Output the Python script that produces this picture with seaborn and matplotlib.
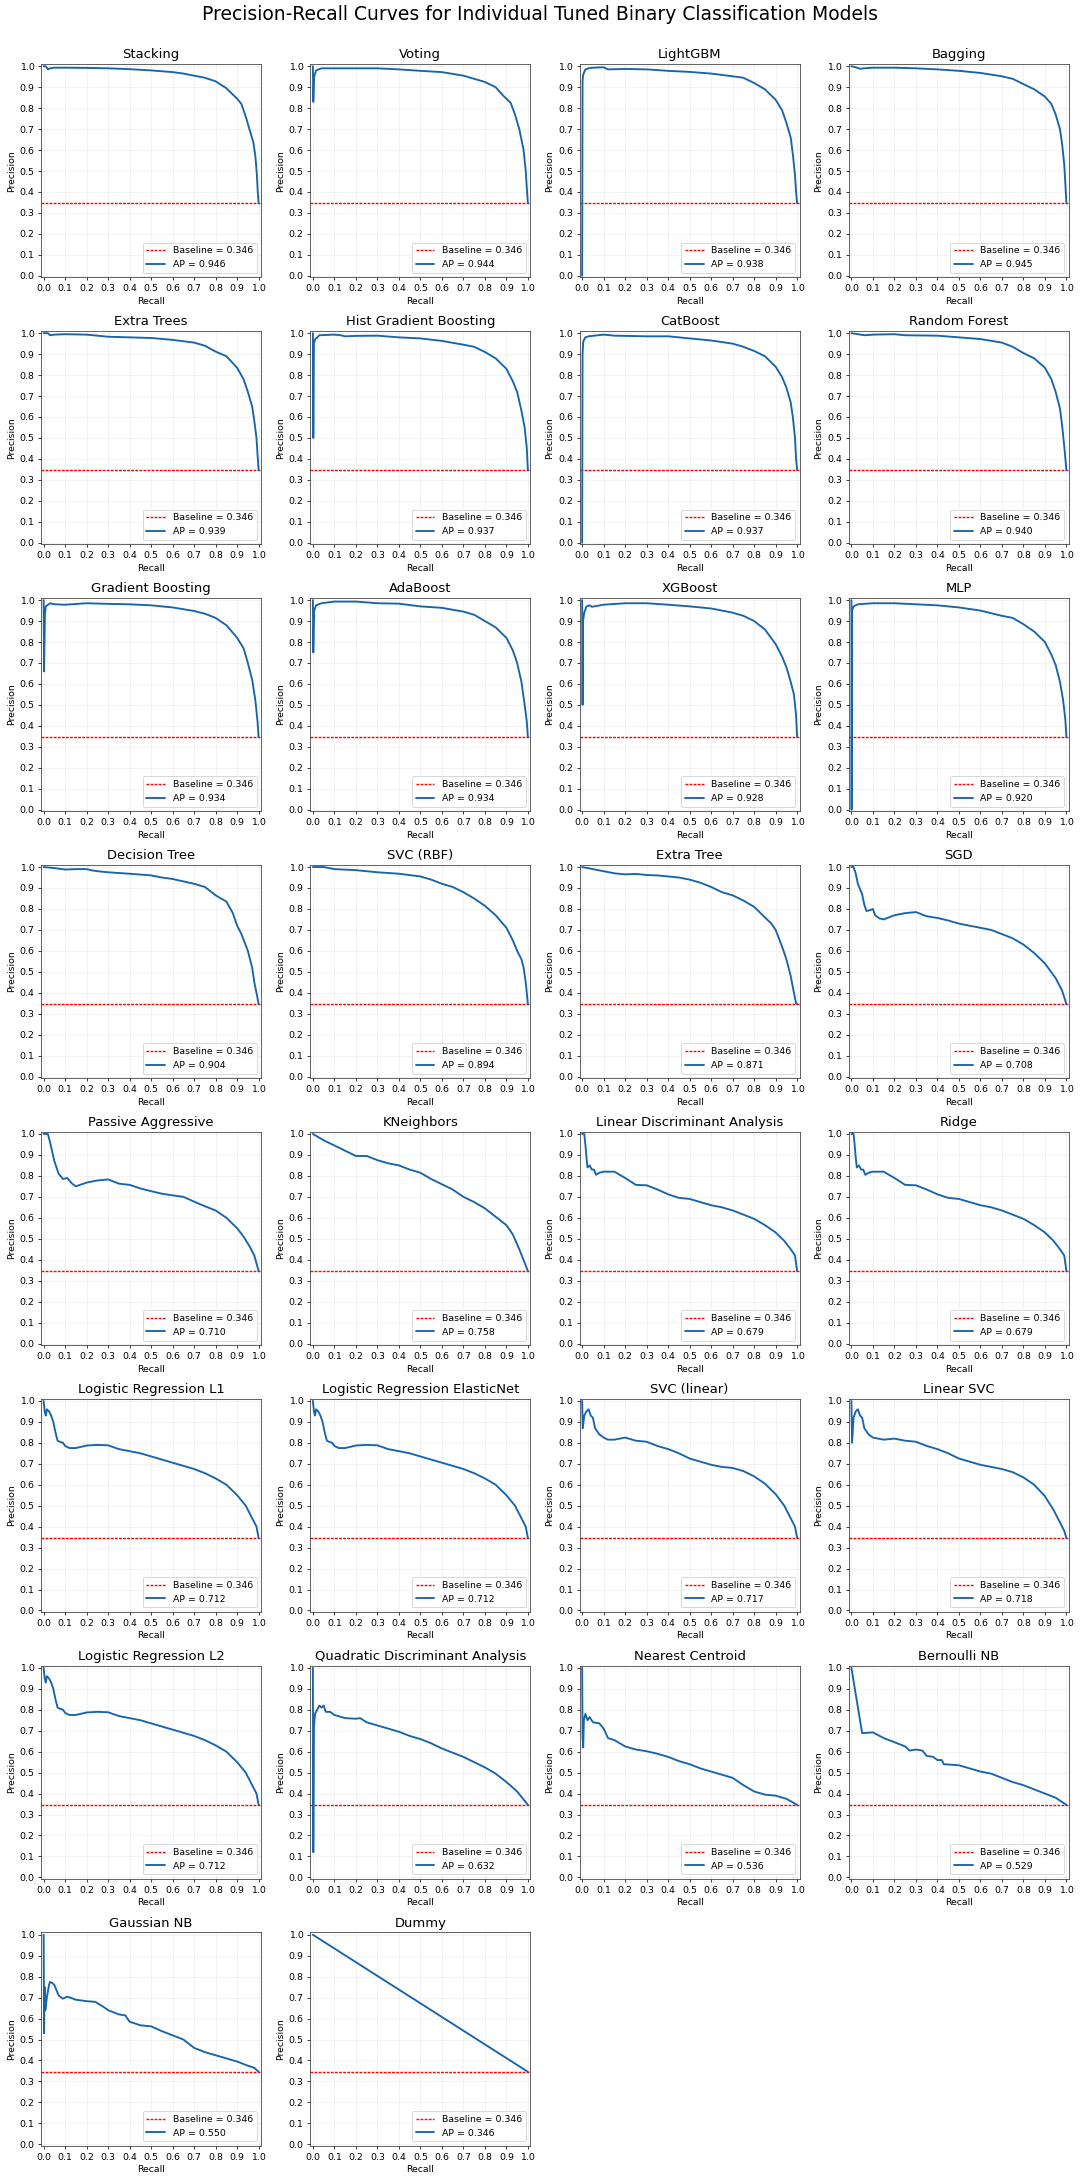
import numpy as np
import pandas as pd
import matplotlib
matplotlib.use('Agg')
import matplotlib.pyplot as plt
import seaborn as sns

baseline = 0.346

model_names = ['Stacking', 'Voting', 'LightGBM', 'Bagging',
               'Extra Trees', 'Hist Gradient Boosting', 'CatBoost', 'Random Forest',
               'Gradient Boosting', 'AdaBoost', 'XGBoost', 'MLP',
               'Decision Tree', 'SVC (RBF)', 'Extra Tree', 'SGD',
               'Passive Aggressive', 'KNeighbors', 'Linear Discriminant Analysis', 'Ridge',
               'Logistic Regression L1', 'Logistic Regression ElasticNet', 'SVC (linear)', 'Linear SVC',
               'Logistic Regression L2', 'Quadratic Discriminant Analysis', 'Nearest Centroid', 'Bernoulli NB',
               'Gaussian NB', 'Dummy']
ap_scores = [0.946, 0.944, 0.938, 0.945,
             0.939, 0.937, 0.937, 0.940,
             0.934, 0.934, 0.928, 0.920,
             0.904, 0.894, 0.871, 0.708,
             0.710, 0.758, 0.679, 0.679,
             0.712, 0.712, 0.717, 0.718,
             0.712, 0.632, 0.536, 0.529,
             0.550, 0.346]

# precision-recall points (recall, precision)
stacking_r = [0, 0.01, 0.02, 0.03, 0.05, 0.1, 0.2, 0.3, 0.4, 0.5, 0.6, 0.65, 0.7, 0.75, 0.8, 0.85, 0.9, 0.92, 0.94, 0.96, 0.975, 0.985, 0.992, 0.996, 1.0]
stacking_p = [1.0, 1.0, 0.985, 0.99, 0.993, 0.993, 0.992, 0.99, 0.986, 0.98, 0.972, 0.965, 0.955, 0.945, 0.928, 0.895, 0.845, 0.82, 0.76, 0.69, 0.64, 0.57, 0.48, 0.40, 0.346]

voting_r = [0, 0.002, 0.006, 0.015, 0.04, 0.1, 0.2, 0.3, 0.4, 0.5, 0.6, 0.7, 0.75, 0.8, 0.85, 0.88, 0.9, 0.92, 0.94, 0.96, 0.98, 0.99, 0.995, 1.0]
voting_p = [1.0, 0.83, 0.95, 0.98, 0.99, 0.99, 0.99, 0.99, 0.985, 0.978, 0.972, 0.955, 0.94, 0.925, 0.9, 0.865, 0.845, 0.825, 0.77, 0.70, 0.60, 0.50, 0.42, 0.346]

lightgbm_r = [0, 0.002, 0.005, 0.015, 0.03, 0.05, 0.1, 0.12, 0.2, 0.3, 0.4, 0.5, 0.6, 0.7, 0.75, 0.8, 0.85, 0.9, 0.93, 0.95, 0.97, 0.98, 0.99, 0.995, 1.0]
lightgbm_p = [0.0, 0.93, 0.96, 0.985, 0.99, 0.993, 0.995, 0.985, 0.987, 0.985, 0.978, 0.973, 0.965, 0.952, 0.945, 0.92, 0.89, 0.84, 0.79, 0.73, 0.66, 0.58, 0.48, 0.40, 0.346]

bagging_r = [0, 0.02, 0.04, 0.06, 0.1, 0.2, 0.3, 0.4, 0.5, 0.6, 0.7, 0.75, 0.8, 0.85, 0.9, 0.93, 0.95, 0.97, 0.98, 0.99, 0.995, 1.0]
bagging_p = [1.0, 0.995, 0.988, 0.99, 0.993, 0.993, 0.99, 0.985, 0.978, 0.968, 0.952, 0.94, 0.915, 0.89, 0.855, 0.82, 0.77, 0.70, 0.63, 0.53, 0.44, 0.346]

extra_trees_r = [0, 0.02, 0.03, 0.05, 0.1, 0.2, 0.3, 0.4, 0.5, 0.6, 0.7, 0.75, 0.8, 0.85, 0.9, 0.93, 0.95, 0.97, 0.98, 0.99, 0.995, 1.0]
extra_trees_p = [1.0, 1.0, 0.99, 0.993, 0.995, 0.993, 0.983, 0.98, 0.977, 0.968, 0.955, 0.94, 0.912, 0.89, 0.835, 0.78, 0.72, 0.65, 0.58, 0.50, 0.42, 0.346]

hist_gb_r = [0, 0.002, 0.005, 0.01, 0.03, 0.1, 0.13, 0.15, 0.2, 0.3, 0.4, 0.5, 0.6, 0.7, 0.75, 0.8, 0.85, 0.9, 0.93, 0.95, 0.97, 0.985, 0.995, 1.0]
hist_gb_p = [1.0, 0.5, 0.95, 0.97, 0.99, 0.993, 0.99, 0.985, 0.987, 0.988, 0.98, 0.975, 0.963, 0.945, 0.935, 0.91, 0.88, 0.83, 0.77, 0.72, 0.63, 0.55, 0.45, 0.346]

catboost_r = [0, 0.002, 0.005, 0.015, 0.03, 0.1, 0.15, 0.3, 0.4, 0.5, 0.6, 0.7, 0.75, 0.8, 0.85, 0.9, 0.93, 0.95, 0.97, 0.98, 0.99, 0.995, 1.0]
catboost_p = [0.0, 0.9, 0.96, 0.98, 0.985, 0.993, 0.988, 0.985, 0.985, 0.975, 0.965, 0.95, 0.935, 0.915, 0.89, 0.84, 0.79, 0.74, 0.67, 0.60, 0.50, 0.40, 0.346]

random_forest_r = [0, 0.03, 0.06, 0.1, 0.2, 0.25, 0.4, 0.5, 0.6, 0.7, 0.75, 0.8, 0.85, 0.9, 0.93, 0.95, 0.97, 0.98, 0.99, 1.0]
random_forest_p = [1.0, 0.995, 0.99, 0.993, 0.995, 0.99, 0.988, 0.98, 0.972, 0.955, 0.935, 0.905, 0.88, 0.835, 0.78, 0.72, 0.64, 0.56, 0.46, 0.346]

grad_boost_r = [0, 0.002, 0.006, 0.01, 0.03, 0.05, 0.1, 0.2, 0.3, 0.4, 0.5, 0.6, 0.7, 0.75, 0.8, 0.85, 0.9, 0.93, 0.95, 0.97, 0.985, 0.995, 1.0]
grad_boost_p = [1.0, 0.66, 0.93, 0.97, 0.985, 0.98, 0.978, 0.985, 0.982, 0.98, 0.975, 0.965, 0.948, 0.935, 0.915, 0.88, 0.82, 0.77, 0.70, 0.62, 0.52, 0.42, 0.346]

adaboost_r = [0, 0.002, 0.006, 0.015, 0.04, 0.1, 0.2, 0.3, 0.4, 0.5, 0.6, 0.7, 0.75, 0.8, 0.85, 0.9, 0.93, 0.95, 0.97, 0.985, 0.995, 1.0]
adaboost_p = [1.0, 0.75, 0.95, 0.975, 0.985, 0.993, 0.993, 0.985, 0.983, 0.97, 0.963, 0.945, 0.93, 0.9, 0.87, 0.82, 0.76, 0.70, 0.61, 0.50, 0.42, 0.346]

xgboost_r = [0, 0.002, 0.004, 0.01, 0.02, 0.035, 0.045, 0.1, 0.2, 0.3, 0.4, 0.5, 0.6, 0.7, 0.75, 0.8, 0.85, 0.9, 0.93, 0.95, 0.97, 0.985, 0.995, 1.0]
xgboost_p = [1.0, 0.5, 0.9, 0.94, 0.97, 0.975, 0.968, 0.978, 0.985, 0.985, 0.978, 0.97, 0.96, 0.94, 0.925, 0.9, 0.86, 0.79, 0.73, 0.68, 0.61, 0.55, 0.45, 0.346]

mlp_r = [0, 0.001, 0.003, 0.01, 0.03, 0.1, 0.2, 0.3, 0.4, 0.5, 0.6, 0.7, 0.75, 0.8, 0.85, 0.9, 0.93, 0.95, 0.97, 0.985, 0.995, 1.0]
mlp_p = [1.0, 0.0, 0.95, 0.97, 0.98, 0.985, 0.985, 0.98, 0.975, 0.965, 0.95, 0.925, 0.915, 0.885, 0.85, 0.80, 0.74, 0.69, 0.61, 0.52, 0.43, 0.346]

decision_tree_r = [0, 0.05, 0.1, 0.15, 0.2, 0.22, 0.25, 0.3, 0.4, 0.5, 0.55, 0.6, 0.7, 0.75, 0.8, 0.85, 0.88, 0.9, 0.92, 0.95, 0.97, 0.98, 0.99, 1.0]
decision_tree_p = [1.0, 0.995, 0.988, 0.99, 0.99, 0.985, 0.98, 0.975, 0.968, 0.96, 0.95, 0.943, 0.92, 0.905, 0.865, 0.835, 0.78, 0.72, 0.68, 0.60, 0.52, 0.45, 0.40, 0.346]

svc_rbf_r = [0, 0.05, 0.1, 0.2, 0.3, 0.4, 0.5, 0.55, 0.6, 0.65, 0.7, 0.75, 0.8, 0.85, 0.9, 0.93, 0.95, 0.97, 0.98, 0.99, 1.0]
svc_rbf_p = [1.0, 1.0, 0.99, 0.985, 0.975, 0.968, 0.955, 0.94, 0.92, 0.905, 0.88, 0.85, 0.815, 0.77, 0.71, 0.65, 0.60, 0.56, 0.52, 0.45, 0.346]

extra_tree_r = [0, 0.05, 0.1, 0.15, 0.2, 0.25, 0.3, 0.35, 0.4, 0.45, 0.5, 0.55, 0.6, 0.65, 0.7, 0.75, 0.8, 0.85, 0.88, 0.9, 0.93, 0.95, 0.97, 0.985, 0.995, 1.0]
extra_tree_p = [1.0, 0.99, 0.98, 0.97, 0.965, 0.967, 0.962, 0.96, 0.955, 0.95, 0.94, 0.925, 0.905, 0.88, 0.865, 0.84, 0.81, 0.76, 0.73, 0.70, 0.62, 0.56, 0.48, 0.40, 0.35, 0.346]

sgd_r = [0, 0.01, 0.02, 0.03, 0.05, 0.06, 0.07, 0.09, 0.1, 0.11, 0.13, 0.15, 0.2, 0.25, 0.3, 0.35, 0.4, 0.45, 0.5, 0.55, 0.6, 0.65, 0.7, 0.75, 0.8, 0.85, 0.9, 0.95, 0.98, 1.0]
sgd_p = [1.0, 1.0, 0.97, 0.92, 0.87, 0.82, 0.79, 0.795, 0.80, 0.77, 0.755, 0.75, 0.77, 0.78, 0.785, 0.765, 0.757, 0.745, 0.73, 0.72, 0.71, 0.70, 0.68, 0.66, 0.63, 0.59, 0.54, 0.47, 0.41, 0.346]

passive_r = [0, 0.02, 0.03, 0.05, 0.07, 0.09, 0.11, 0.13, 0.15, 0.2, 0.25, 0.3, 0.35, 0.4, 0.45, 0.5, 0.55, 0.6, 0.65, 0.7, 0.75, 0.8, 0.85, 0.9, 0.93, 0.96, 0.98, 1.0]
passive_p = [1.0, 1.0, 0.96, 0.87, 0.81, 0.785, 0.79, 0.765, 0.75, 0.768, 0.778, 0.783, 0.763, 0.757, 0.74, 0.727, 0.715, 0.707, 0.70, 0.677, 0.655, 0.635, 0.60, 0.55, 0.51, 0.46, 0.42, 0.346]

kneighbors_r = [0, 0.05, 0.1, 0.15, 0.2, 0.25, 0.3, 0.35, 0.4, 0.45, 0.5, 0.55, 0.6, 0.65, 0.7, 0.75, 0.8, 0.85, 0.9, 0.93, 0.96, 1.0]
kneighbors_p = [1.0, 0.97, 0.945, 0.92, 0.895, 0.895, 0.875, 0.86, 0.85, 0.83, 0.815, 0.785, 0.76, 0.735, 0.70, 0.675, 0.645, 0.605, 0.565, 0.52, 0.45, 0.346]

lda_r = [0, 0.01, 0.015, 0.02, 0.025, 0.035, 0.045, 0.055, 0.065, 0.08, 0.1, 0.15, 0.2, 0.25, 0.3, 0.35, 0.4, 0.45, 0.5, 0.55, 0.6, 0.65, 0.7, 0.75, 0.8, 0.85, 0.9, 0.94, 0.97, 0.99, 1.0]
lda_p = [1.0, 1.0, 0.95, 0.89, 0.84, 0.85, 0.83, 0.83, 0.805, 0.815, 0.82, 0.82, 0.79, 0.757, 0.755, 0.735, 0.712, 0.695, 0.69, 0.675, 0.66, 0.65, 0.635, 0.615, 0.595, 0.565, 0.53, 0.49, 0.45, 0.42, 0.346]

ridge_r = [0, 0.01, 0.015, 0.02, 0.025, 0.035, 0.045, 0.055, 0.065, 0.08, 0.1, 0.15, 0.2, 0.25, 0.3, 0.35, 0.4, 0.45, 0.5, 0.55, 0.6, 0.65, 0.7, 0.75, 0.8, 0.85, 0.9, 0.94, 0.97, 0.99, 1.0]
ridge_p = [1.0, 1.0, 0.95, 0.89, 0.84, 0.85, 0.83, 0.83, 0.805, 0.815, 0.82, 0.82, 0.79, 0.757, 0.755, 0.735, 0.712, 0.695, 0.69, 0.675, 0.66, 0.65, 0.635, 0.615, 0.595, 0.565, 0.53, 0.49, 0.45, 0.42, 0.346]

lr_l1_r = [0, 0.005, 0.01, 0.015, 0.025, 0.035, 0.045, 0.055, 0.065, 0.075, 0.09, 0.1, 0.12, 0.15, 0.2, 0.25, 0.3, 0.35, 0.4, 0.45, 0.5, 0.55, 0.6, 0.65, 0.7, 0.75, 0.8, 0.85, 0.9, 0.94, 0.97, 0.99, 1.0]
lr_l1_p = [1.0, 0.95, 0.93, 0.96, 0.95, 0.93, 0.9, 0.85, 0.81, 0.805, 0.80, 0.785, 0.775, 0.775, 0.787, 0.79, 0.788, 0.77, 0.76, 0.75, 0.735, 0.72, 0.705, 0.69, 0.675, 0.655, 0.63, 0.60, 0.55, 0.50, 0.44, 0.40, 0.346]

lr_en_r = [0, 0.005, 0.01, 0.015, 0.025, 0.035, 0.045, 0.055, 0.065, 0.075, 0.09, 0.1, 0.12, 0.15, 0.2, 0.25, 0.3, 0.35, 0.4, 0.45, 0.5, 0.55, 0.6, 0.65, 0.7, 0.75, 0.8, 0.85, 0.9, 0.94, 0.97, 0.99, 1.0]
lr_en_p = [1.0, 0.95, 0.93, 0.96, 0.95, 0.93, 0.9, 0.85, 0.81, 0.805, 0.80, 0.785, 0.775, 0.775, 0.787, 0.79, 0.788, 0.77, 0.76, 0.75, 0.735, 0.72, 0.705, 0.69, 0.675, 0.655, 0.63, 0.60, 0.55, 0.50, 0.44, 0.40, 0.346]

svc_lin_r = [0, 0.003, 0.01, 0.02, 0.03, 0.04, 0.05, 0.06, 0.08, 0.1, 0.12, 0.15, 0.2, 0.25, 0.3, 0.35, 0.4, 0.45, 0.5, 0.55, 0.6, 0.65, 0.7, 0.75, 0.8, 0.85, 0.9, 0.94, 0.97, 0.99, 1.0]
svc_lin_p = [1.0, 0.87, 0.93, 0.95, 0.96, 0.93, 0.92, 0.87, 0.84, 0.825, 0.815, 0.815, 0.825, 0.81, 0.805, 0.785, 0.77, 0.75, 0.725, 0.71, 0.695, 0.685, 0.68, 0.665, 0.64, 0.605, 0.555, 0.50, 0.44, 0.40, 0.346]

linear_svc_r = [0, 0.003, 0.01, 0.02, 0.03, 0.04, 0.05, 0.06, 0.08, 0.1, 0.15, 0.2, 0.25, 0.3, 0.35, 0.4, 0.45, 0.5, 0.55, 0.6, 0.65, 0.7, 0.75, 0.8, 0.85, 0.9, 0.94, 0.97, 0.99, 1.0]
linear_svc_p = [1.0, 0.80, 0.92, 0.95, 0.96, 0.93, 0.92, 0.87, 0.84, 0.825, 0.815, 0.82, 0.81, 0.805, 0.785, 0.77, 0.75, 0.725, 0.71, 0.695, 0.685, 0.675, 0.66, 0.635, 0.60, 0.545, 0.48, 0.42, 0.38, 0.346]

lr_l2_r = [0, 0.005, 0.01, 0.015, 0.025, 0.035, 0.045, 0.055, 0.065, 0.075, 0.09, 0.1, 0.12, 0.15, 0.2, 0.25, 0.3, 0.35, 0.4, 0.45, 0.5, 0.55, 0.6, 0.65, 0.7, 0.75, 0.8, 0.85, 0.9, 0.94, 0.97, 0.99, 1.0]
lr_l2_p = [1.0, 0.95, 0.93, 0.96, 0.95, 0.93, 0.9, 0.85, 0.81, 0.805, 0.80, 0.785, 0.775, 0.775, 0.787, 0.79, 0.788, 0.77, 0.76, 0.75, 0.735, 0.72, 0.705, 0.69, 0.675, 0.655, 0.63, 0.60, 0.55, 0.50, 0.44, 0.40, 0.346]

qda_r = [0, 0.002, 0.005, 0.01, 0.02, 0.03, 0.04, 0.05, 0.06, 0.08, 0.1, 0.15, 0.2, 0.22, 0.25, 0.3, 0.35, 0.4, 0.45, 0.5, 0.55, 0.6, 0.65, 0.7, 0.75, 0.8, 0.85, 0.9, 0.95, 1.0]
qda_p = [1.0, 0.12, 0.72, 0.78, 0.80, 0.82, 0.81, 0.82, 0.79, 0.79, 0.775, 0.76, 0.757, 0.76, 0.74, 0.725, 0.71, 0.695, 0.675, 0.66, 0.64, 0.615, 0.595, 0.575, 0.55, 0.525, 0.495, 0.455, 0.41, 0.346]

centroid_r = [0, 0.002, 0.005, 0.008, 0.015, 0.025, 0.035, 0.05, 0.08, 0.1, 0.12, 0.15, 0.2, 0.25, 0.3, 0.35, 0.4, 0.45, 0.5, 0.55, 0.6, 0.65, 0.7, 0.75, 0.8, 0.85, 0.9, 0.95, 1.0]
centroid_p = [1.0, 0.67, 0.62, 0.75, 0.78, 0.75, 0.765, 0.74, 0.735, 0.71, 0.665, 0.655, 0.625, 0.61, 0.602, 0.59, 0.575, 0.555, 0.54, 0.52, 0.505, 0.49, 0.475, 0.44, 0.41, 0.395, 0.39, 0.375, 0.346]

bernoulli_r = [0, 0.05, 0.1, 0.15, 0.2, 0.25, 0.27, 0.3, 0.33, 0.35, 0.38, 0.4, 0.42, 0.43, 0.5, 0.55, 0.6, 0.65, 0.7, 0.75, 0.8, 0.85, 0.9, 0.95, 1.0]
bernoulli_p = [1.0, 0.688, 0.692, 0.665, 0.645, 0.625, 0.605, 0.61, 0.605, 0.58, 0.575, 0.56, 0.56, 0.54, 0.535, 0.52, 0.505, 0.495, 0.475, 0.455, 0.44, 0.42, 0.40, 0.38, 0.346]

gaussian_r = [0, 0.002, 0.005, 0.008, 0.015, 0.025, 0.03, 0.04, 0.05, 0.07, 0.09, 0.11, 0.15, 0.2, 0.24, 0.28, 0.3, 0.35, 0.38, 0.4, 0.45, 0.5, 0.55, 0.6, 0.65, 0.7, 0.75, 0.8, 0.85, 0.9, 0.95, 0.98, 1.0]
gaussian_p = [1.0, 0.53, 0.75, 0.64, 0.70, 0.76, 0.775, 0.77, 0.76, 0.71, 0.695, 0.705, 0.69, 0.683, 0.68, 0.655, 0.64, 0.62, 0.615, 0.585, 0.568, 0.563, 0.54, 0.52, 0.50, 0.46, 0.44, 0.425, 0.41, 0.395, 0.375, 0.365, 0.346]

dummy_r = [0, 1.0]
dummy_p = [1.0, 0.346]

curves = [(stacking_r, stacking_p), (voting_r, voting_p), (lightgbm_r, lightgbm_p), (bagging_r, bagging_p),
          (extra_trees_r, extra_trees_p), (hist_gb_r, hist_gb_p), (catboost_r, catboost_p), (random_forest_r, random_forest_p),
          (grad_boost_r, grad_boost_p), (adaboost_r, adaboost_p), (xgboost_r, xgboost_p), (mlp_r, mlp_p),
          (decision_tree_r, decision_tree_p), (svc_rbf_r, svc_rbf_p), (extra_tree_r, extra_tree_p), (sgd_r, sgd_p),
          (passive_r, passive_p), (kneighbors_r, kneighbors_p), (lda_r, lda_p), (ridge_r, ridge_p),
          (lr_l1_r, lr_l1_p), (lr_en_r, lr_en_p), (svc_lin_r, svc_lin_p), (linear_svc_r, linear_svc_p),
          (lr_l2_r, lr_l2_p), (qda_r, qda_p), (centroid_r, centroid_p), (bernoulli_r, bernoulli_p),
          (gaussian_r, gaussian_p), (dummy_r, dummy_p)]

sns.set_style('ticks', {'text.color': 'black', 'axes.labelcolor': 'black',
                        'xtick.color': 'black', 'ytick.color': 'black', 'axes.edgecolor': '0.2'})
plt.rcParams['font.family'] = ['DejaVu Sans']

fig, axes = plt.subplots(8, 4, figsize=(16, 32.326), dpi=67.5)
fig.subplots_adjust(left=0.038, right=0.9898, top=0.9707, bottom=0.0165, wspace=0.223, hspace=0.25)
axes = axes.flatten()

for i, name in enumerate(model_names):
    ax = axes[i]
    rec, prec = curves[i]
    df = pd.DataFrame({'Recall': rec, 'Precision': prec})
    ax.axhline(baseline, color='red', linestyle=(0, (2.0, 0.9)), lw=1.5, label=f'Baseline = {baseline:.3f}')
    sns.lineplot(data=df, x='Recall', y='Precision', ax=ax, sort=False, estimator=None,
                 color='#1764ab', lw=2, label=f'AP = {ap_scores[i]:.3f}')
    ax.set_title(name, fontsize=14)
    ax.set_xlabel('Recall', fontsize=10)
    ax.set_ylabel('Precision', fontsize=10)
    ax.set_xlim(-0.012, 1.012)
    ax.set_ylim(-0.008, 1.011)
    ax.set_xticks(np.arange(0, 1.01, 0.1))
    ax.set_yticks(np.arange(0, 1.01, 0.1))
    ax.tick_params(labelsize=10)
    ax.grid(True, alpha=0.3)
    ax.legend(loc='lower right', fontsize=10)

for j in range(len(model_names), len(axes)):
    fig.delaxes(axes[j])

fig.suptitle('Precision-Recall Curves for Individual Tuned Binary Classification Models',
             fontsize=20, y=0.9935, va='center')
fig.savefig('out.png', dpi=67.5)
